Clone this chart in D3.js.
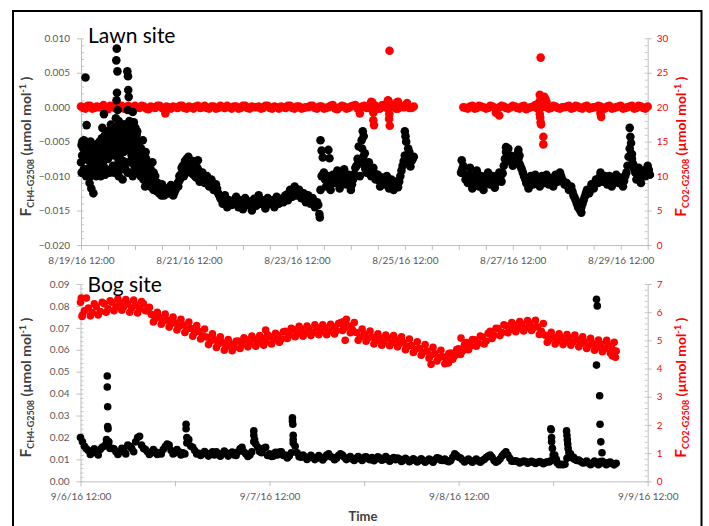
<!DOCTYPE html>
<html><head><meta charset="utf-8">
<script src="https://cdn.jsdelivr.net/npm/d3@7"></script>
<style>body{margin:0;background:#fff}svg{display:block}text{font-family:Lato,"Open Sans",sans-serif}</style>
</head><body>
<svg id="c" width="709" height="526"></svg>
<script>
// ================= DATA =================
// Lawn site (time = hours after 8/19/16 12:00)
const lawnTitle = "Lawn site";
const lawnXLabels = ["8/19/16 12:00","8/21/16 12:00","8/23/16 12:00","8/25/16 12:00","8/27/16 12:00","8/29/16 12:00"];
const lawnCh4Ticks = [0.010,0.005,0.000,-0.005,-0.010,-0.015,-0.020];
const lawnCo2Ticks = [0,5,10,15,20,25,30];
// CH4 readings on the hour, hours 0-148
const lawnCh4A = [-0.0080,-0.0060,-0.0090,-0.0055,-0.0100,-0.0070,-0.0085,-0.0065,-0.0095,-0.0060,
 -0.0085,-0.0050,-0.0075,-0.0045,-0.0035,-0.0070,-0.0040,-0.0090,-0.0050,-0.0065,
 -0.0030,-0.0080,-0.0045,-0.0100,-0.0055,-0.0035,-0.0075,-0.0065,-0.0095,-0.0075,
 -0.0105,-0.0090,-0.0112,-0.0100,-0.0118,-0.0122,-0.0112,-0.0128,-0.0118,-0.0125,
 -0.0113,-0.0128,-0.0120,-0.0110,-0.0105,-0.0095,-0.0085,-0.0075,-0.0090,-0.0082,
 -0.0098,-0.0090,-0.0100,-0.0105,-0.0095,-0.0110,-0.0100,-0.0115,-0.0105,-0.0120,
 -0.0112,-0.0125,-0.0132,-0.0140,-0.0128,-0.0145,-0.0135,-0.0142,
 -0.0140,-0.0130,-0.0145,-0.0135,-0.0148,-0.0132,-0.0142,-0.0137,-0.0150,-0.0133,
 -0.0143,-0.0128,-0.0140,-0.0135,-0.0147,-0.0132,-0.0140,-0.0135,-0.0145,-0.0130,
 -0.0140,-0.0133,-0.0138,-0.0128,-0.0135,-0.0120,-0.0130,-0.0115,-0.0128,-0.0120,
 -0.0132,-0.0125,-0.0138,-0.0128,-0.0140,-0.0132,-0.0145,-0.0138,
 -0.0155,-0.0100,
 -0.0095,-0.0115,-0.0100,-0.0120,-0.0098,-0.0110,-0.0092,-0.0118,-0.0103,-0.0090,-0.0112,-0.0098,-0.0120,-0.0105,-0.0088,
 -0.0075,-0.0100,-0.0060,-0.0085,-0.0095,
 -0.0080,-0.0100,-0.0088,-0.0105,
 -0.0098,-0.0115,-0.0102,-0.0112,-0.0100,-0.0118,-0.0105,-0.0120,-0.0108,-0.0116,
 -0.0100,-0.0085,-0.0070,-0.0080,-0.0065,-0.0078,-0.0072];
// CH4 readings on the half hour, hours 0.5-147.5
const lawnCh4AHalf = [-0.0070,-0.0075,-0.0072,-0.0078,-0.0085,-0.0077,-0.0075,-0.0080,
 -0.0072,-0.0068,-0.0070,-0.0062,-0.0060,
 -0.0055,-0.0052,-0.0058,-0.0060,-0.0068,-0.0055,-0.0048,-0.0062,-0.0058,-0.0070,-0.0045,-0.0055,-0.0062,
 -0.0080,-0.0078,-0.0088,-0.0095,-0.0098,-0.0103,-0.0108,-0.0112,
 -0.0120,-0.0117,-0.0120,-0.0123,-0.0121,-0.0119,-0.0122,-0.0124,-0.0115,
 -0.0108,-0.0100,-0.0090,-0.0082,-0.0080,-0.0086,-0.0090,-0.0094,-0.0096,
 -0.0100,-0.0102,-0.0104,-0.0108,-0.0110,-0.0112,-0.0114,-0.0116,-0.0118,
 -0.0128,-0.0134,-0.0136,-0.0137,-0.0140,-0.0138,-0.0139,
 -0.0136,-0.0138,-0.0140,-0.0141,-0.0140,-0.0137,-0.0139,-0.0142,-0.0141,-0.0138,
 -0.0136,-0.0135,-0.0137,-0.0140,-0.0139,-0.0136,-0.0137,-0.0140,-0.0138,-0.0135,
 -0.0136,-0.0134,-0.0130,-0.0127,-0.0125,-0.0122,-0.0123,-0.0125,-0.0126,-0.0129,
 -0.0131,-0.0133,-0.0134,-0.0135,-0.0136,-0.0137,-0.0140,-0.0142,
 -0.0120,-0.0098,
 -0.0105,-0.0106,-0.0109,-0.0108,-0.0104,-0.0103,-0.0105,-0.0110,-0.0097,-0.0101,-0.0105,-0.0108,-0.0112,-0.0097,-0.0085,
 -0.0080,-0.0078,-0.0072,-0.0090,-0.0088,
 -0.0090,-0.0094,-0.0096,-0.0100,
 -0.0106,-0.0108,-0.0107,-0.0106,-0.0109,-0.0110,-0.0112,-0.0113,-0.0111,-0.0108,
 -0.0092,-0.0078,-0.0075,-0.0072,-0.0071,-0.0075];
// CH4 readings at quarter past / quarter to, hours 0.25-35.75
const lawnCh4EarlyQ = [-0.0055,-0.0095,-0.0090,-0.0050,-0.0100,-0.0060,-0.0075,-0.0100,-0.0050,-0.0088,
 -0.0095,-0.0058,-0.0068,-0.0100,-0.0090,-0.0052,-0.0068,-0.0100,-0.0045,-0.0080,
 -0.0060,-0.0098,-0.0072,-0.0035,-0.0092,-0.0055,-0.0070,-0.0030,-0.0050,-0.0095,
 -0.0085,-0.0035,-0.0060,-0.0100,-0.0045,-0.0078,-0.0090,-0.0025,-0.0080,-0.0050,
 -0.0045,-0.0095,-0.0060,-0.0035,-0.0080,-0.0055,-0.0045,-0.0085,-0.0070,-0.0040,
 -0.0085,-0.0050,-0.0090,-0.0060,-0.0080,-0.0105,-0.0085,-0.0065,-0.0100,-0.0085,
 -0.0095,-0.0115,-0.0105,-0.0080,-0.0120,-0.0105,-0.0112,-0.0122,-0.0110,-0.0125,
 -0.0115,-0.0128];
// CH4 readings at quarter past / quarter to, hours 43.25-52.75
const lawnCh4BumpQ = [-0.0115,-0.0100,-0.0098,-0.0088,-0.0085,-0.0100,-0.0078,-0.0092,-0.0088,-0.0072,
 -0.0080,-0.0095,-0.0092,-0.0078,-0.0085,-0.0100,-0.0102,-0.0088,-0.0092,-0.0108];
// CH4 readings on the hour, hours 169-253
const lawnCh4B = [-0.0095,-0.0085,-0.0105,
 -0.0110,-0.0098,-0.0118,-0.0103,-0.0092,-0.0115,-0.0100,-0.0120,-0.0105,-0.0095,-0.0112,-0.0100,-0.0117,-0.0103,-0.0095,-0.0108,
 -0.0085,-0.0065,-0.0078,-0.0070,-0.0085,-0.0075,-0.0068,-0.0082,-0.0090,-0.0100,
 -0.0110,-0.0118,-0.0100,-0.0112,-0.0098,-0.0108,-0.0115,-0.0100,-0.0110,-0.0098,-0.0112,-0.0103,-0.0115,-0.0098,-0.0108,-0.0095,-0.0105,-0.0112,
 -0.0110,-0.0120,-0.0115,-0.0128,-0.0135,-0.0145,-0.0150,-0.0140,-0.0130,
 -0.0120,-0.0125,-0.0112,-0.0118,-0.0105,-0.0110,-0.0095,-0.0108,-0.0100,
 -0.0112,-0.0100,-0.0115,-0.0105,-0.0098,-0.0110,-0.0102,-0.0115,-0.0100,
 -0.0085,-0.0060,-0.0075,-0.0090,
 -0.0105,-0.0088,-0.0110,-0.0092,-0.0100,-0.0085,-0.0098];
// CH4 readings on the half hour, hours 169.5-252.5
const lawnCh4BHalf = [-0.0090,-0.0097,-0.0104,
 -0.0104,-0.0108,-0.0110,-0.0098,-0.0103,-0.0107,-0.0110,-0.0112,-0.0100,-0.0104,-0.0106,-0.0108,-0.0110,-0.0099,-0.0101,-0.0096,
 -0.0075,-0.0071,-0.0074,-0.0078,-0.0080,-0.0072,-0.0075,-0.0086,-0.0095,-0.0104,
 -0.0112,-0.0108,-0.0106,-0.0105,-0.0103,-0.0110,-0.0107,-0.0105,-0.0104,-0.0105,-0.0107,-0.0109,-0.0106,-0.0103,-0.0101,-0.0100,-0.0108,-0.0111,
 -0.0115,-0.0117,-0.0122,-0.0131,-0.0140,-0.0147,-0.0145,-0.0135,-0.0125,
 -0.0122,-0.0119,-0.0115,-0.0111,-0.0108,-0.0102,-0.0101,-0.0104,-0.0106,
 -0.0106,-0.0108,-0.0110,-0.0101,-0.0104,-0.0106,-0.0108,-0.0107,-0.0095,
 -0.0072,-0.0068,-0.0082,-0.0095,
 -0.0096,-0.0099,-0.0101,-0.0096,-0.0092,-0.0091];
// CH4 scattered readings [hour, value]
const lawnCh4Extra = [[0.3,-0.0095],[0.6,-0.0050],[0.8,-0.0095],[1.3,-0.0048],[2.0,0.0043],[2.2,-0.0065],[2.5,-0.0026],
 [3.3,-0.0090],[3.8,-0.0110],[4.3,-0.0060],[4.6,-0.0118],[5.2,-0.0092],[5.5,-0.0125],[6.3,-0.0055],[7.3,-0.0095],
 [8.3,-0.0050],[9.2,-0.0095],[9.5,-0.0030],[10.2,-0.0010],[10.7,-0.0040],[11.2,-0.0090],[11.5,-0.0095],[12.3,-0.0040],
 [12.8,-0.0095],[13.3,-0.0025],[14.2,-0.0085],[14.5,-0.0060],[15.2,-0.0029],[15.3,-0.0045],[15.5,-0.0016],[15.7,0.0068],
 [15.8,0.0010],[15.9,0.0085],[16.0,0.0021],[16.2,0.0052],[16.3,-0.0004],[16.6,-0.0075],[16.8,-0.0020],[17.3,-0.0065],
 [17.5,-0.0030],[18.2,-0.0035],[18.5,-0.0105],[18.8,-0.0078],[19.3,-0.0025],[19.5,-0.0040],[19.8,-0.0090],[20.3,-0.0060],
 [20.6,0.0052],[20.8,-0.0004],[20.9,0.0045],[21.0,0.0025],[21.2,0.0015],[21.5,-0.0020],[21.8,-0.0040],[22.2,-0.0095],
 [22.5,-0.0065],[22.8,-0.0030],[23.0,-0.0007],[23.5,-0.0022],[23.8,-0.0065],[24.2,-0.0030],[24.5,-0.0090],[24.8,-0.0078],
 [25.2,-0.0095],[25.5,-0.0060],[26.2,-0.0050],[26.5,-0.0100],[27.2,-0.0100],[27.5,-0.0048],[28.2,-0.0070],[28.5,-0.0115],
 [29.2,-0.0110],[30.3,-0.0085],[31.3,-0.0115],[32.3,-0.0095],[52,-0.0077],
 [106.2,-0.0160],[106.5,-0.0048],[107,-0.0063],[107.5,-0.0073],[110,-0.0062],[110.5,-0.0074],
 [123.5,-0.0057],[124.8,-0.0048],[125.3,-0.0035],[125.7,-0.0042],[126.2,-0.0067],
 [144,-0.0035],[144.3,-0.0042],[144.6,-0.0050],[145.5,-0.0060],[146.5,-0.0086],
 [169.3,-0.0077],[173,-0.0088],[189,-0.0058],[190,-0.0060],[194.5,-0.0062],[195,-0.0070],[222.5,-0.0153],
 [244,-0.0030],[244.3,-0.0043],[244.6,-0.0052],[245,-0.0068]];
// CO2 readings at even hours 0-148
const lawnCo2A = [20.1,19.8,20.2,19.9,20.0,20.3,19.7,20.1,19.9,20.2,
 19.8,20.0,20.2,19.9,20.1,19.7,20.0,20.2,19.9,20.1,
 19.8,20.0,20.2,19.9,20.1,19.8,20.2,20.0,19.9,20.1,
 19.8,20.2,19.9,20.0,20.1,19.8,20.2,19.9,20.1,20.0,
 19.8,20.2,19.9,20.1,19.8,20.0,20.2,19.9,20.1,19.8,
 20.0,20.2,19.9,20.1,19.8,20.0,20.3,19.7,20.2,19.8,
 20.1,20.3,19.8,20.2,19.9,20.1,19.8,20.3,19.9,20.1,
 19.8,20.2,20.0,19.9,20.1];
// CO2 readings at odd hours 1-147
const lawnCo2AOdd = [19.9,20.2,19.8,20.1,20.0,19.7,20.2,19.9,20.1,19.8,
 20.2,19.9,20.0,20.2,19.8,20.1,19.9,20.2,19.8,20.0,
 20.1,19.9,20.2,19.8,20.0,20.1,19.9,20.2,19.8,20.1,
 19.9,20.0,20.2,19.8,20.1,19.9,20.2,19.8,20.0,20.1,
 19.9,20.2,19.8,20.0,20.1,19.9,20.2,19.8,20.1,19.9,
 20.0,20.2,19.8,20.1,19.9,20.2,19.8,20.0,20.1,19.9,
 20.2,19.8,20.1,19.9,20.0,20.2,19.8,20.1,19.9,20.2,
 19.8,20.0,20.1,19.9];
// CO2 readings at even hours 170-252
const lawnCo2B = [20.0,19.8,20.2,19.9,20.1,19.8,20.2,19.9,20.0,20.1,
 19.8,20.2,19.9,20.1,19.7,20.0,20.3,19.9,20.1,19.8,
 20.2,19.9,20.0,20.1,19.8,20.2,19.9,20.1,19.8,20.0,
 20.2,19.9,20.1,19.8,20.0,20.2,19.9,20.1,19.8,20.2,
 19.9,20.1];
// CO2 readings at odd hours 171-251
const lawnCo2BOdd = [19.9,20.1,19.8,20.2,20.0,19.9,20.1,19.8,20.2,19.9,
 20.0,20.1,19.8,20.2,19.9,20.1,19.8,20.0,20.2,19.9,
 20.1,19.8,20.0,20.2,19.9,20.1,19.8,20.2,19.9,20.0,
 20.1,19.8,20.2,19.9,20.1,19.8,20.0,20.2,19.9,20.1,
 19.8];
const lawnCo2Extra = [[37.5,19.1],[124,19.1],[129,20.8],[129.5,20.7],[130,19.2],[130,18.1],[130.3,17.4],
 [136.5,21.0],[136.8,20.9],[137.1,19.0],[137,18.3],[137.3,17.3],[137.2,28.2],[140.5,20.7],[141,20.8],[145,20.6],
 [184.5,19.2],[186,18.8],[203.8,20.8],[204,21.8],[204.5,21.4],[205,21.0],[204,19.0],[204.2,18.5],[204.4,17.8],
 [204.6,17.5],[205.6,15.7],[205.6,14.6],[204.4,27.2],[205.3,20.6],[206,21.5],[206.5,21.2],[207,20.8],[231,19.1],[231.3,18.6]];

// Bog site (time = hours after 9/6/16 12:00)
const bogTitle = "Bog site";
const bogXLabels = ["9/6/16 12:00","9/7/16 12:00","9/8/16 12:00","9/9/16 12:00"];
const bogCh4Ticks = [0,0.01,0.02,0.03,0.04,0.05,0.06,0.07,0.08,0.09];
const bogCo2Ticks = [0,1,2,3,4,5,6,7];
// CH4 every 30 min, hours 0-68
const bogCh4 = [.020,.016,.014,.013,.0135,.0145,.016,.0175,.015,.0135,
 .0135,.014,.0165,.015,.018,.0205,.015,.0135,.013,.0135,
 .013,.0145,.017,.014,.013,.0135,.013,.0175,.016,.014,
 .0128,.0125,.0128,.0125,.012,.0125,.0125,.013,.0125,.012,
 .0135,.0155,.0125,.012,.018,.0155,.013,.0155,.0125,.0115,
 .012,.0135,.012,.0115,.0175,.013,.011,.0112,.0108,.011,
 .0105,.011,.0108,.0125,.011,.0105,.0125,.011,.0105,.0102,
 .0105,.0103,.011,.0103,.0108,.0102,.0106,.010,.0105,.010,
 .0098,.0102,.0097,.0098,.0095,.0097,.0095,.0096,.0094,.0096,
 .0098,.0105,.0095,.0093,.0095,.0125,.011,.0097,.0095,.0094,
 .0095,.0093,.0095,.0108,.012,.0095,.0093,.0115,.0135,.0105,
 .0092,.009,.0088,.009,.0087,.0088,.0086,.0087,.0085,.0088,
 .012,.0085,.0077,.0078,.013,.0105,.0095,.009,.0085,.0083,
 .0082,.0085,.009,.0082,.0085,.008,.0082];
// CH4 every 30 min, offset 15 min (hours 0.25-67.75)
const bogCh4Q = [.0180,.0148,.0122,.0148,.0120,.0155,.0170,.0150,.0148,.0122,
 .0150,.0125,.0160,.0135,.0200,.0165,.0145,.0122,.0145,.0122,
 .0125,.0158,.0165,.0125,.0145,.0120,.0125,.0190,.0155,.0125,
 .0118,.0136,.0115,.0135,.0134,.0114,.0138,.0115,.0133,.0118,
 .0148,.0135,.0113,.0134,.0170,.0135,.0150,.0118,.0113,.0132,
 .0133,.0118,.0106,.0130,.0160,.0112,.0120,.0100,.0119,.0099,
 .0117,.0097,.0120,.0112,.0098,.0117,.0120,.0099,.0113,.0095,
 .0113,.0095,.0112,.0098,.0094,.0112,.0096,.0113,.0092,.0108,
 .0106,.0090,.0105,.0089,.0103,.0088,.0103,.0087,.0102,.0087,
 .0107,.0096,.0102,.0089,.0110,.0118,.0106,.0088,.0102,.0087,
 .0102,.0087,.0100,.0115,.0110,.0087,.0102,.0125,.0120,.0092,
 .0094,.0084,.0092,.0082,.0091,.0081,.0090,.0080,.0089,.0095,
 .0098,.0076,.0076,.0105,.0115,.0100,.0097,.0084,.0092,.0076,
 .0092,.0076,.0091,.0076,.0088,.0075];
const bogCh4Extra = [[3.4,0.048],[3.4,0.043],[3.45,0.034],[3.45,0.025],[3.5,0.024],[3.3,0.019],[3.6,0.018],
 [13.4,0.026],[13.4,0.024],[13.5,0.020],[13.6,0.018],[22.0,0.023],[22.0,0.021],[22.1,0.019],
 [26.9,0.029],[26.9,0.0275],[26.95,0.026],[27.0,0.021],[27.0,0.019],
 [59.7,0.024],[59.75,0.0235],[59.8,0.020],[59.8,0.018],[59.9,0.015],[60.2,0.012],[60.4,0.010],
 [61.7,0.023],[61.75,0.021],[61.8,0.019],[61.85,0.017],[61.9,0.015],[62.2,0.0125],[62.6,0.011],[63.2,0.0095],
 [65.5,0.083],[65.6,0.080],[65.5,0.053],[65.9,0.039],[65.95,0.026],[66.05,0.018],[66.2,0.013]];
// CO2 every 30 min, hours 0-68
const bogCo2 = [6.35,6.05,6.15,5.98,6.2,6.02,6.3,6.12,6.35,6.18,
 6.33,6.2,6.3,6.15,6.25,6.12,6.3,6.05,5.92,5.78,
 5.82,5.68,5.72,5.6,5.62,5.5,5.55,5.4,5.42,5.28,
 5.32,5.15,5.12,4.98,5.02,4.88,4.92,4.78,4.88,4.75,
 4.98,4.85,5.02,4.9,5.05,4.92,5.08,4.95,5.14,5.0,
 5.18,5.05,5.32,5.18,5.38,5.24,5.4,5.26,5.42,5.28,
 5.45,5.3,5.45,5.32,5.48,5.35,5.62,5.45,5.52,5.38,
 5.28,5.12,5.22,5.08,5.12,4.98,5.08,4.94,5.08,4.92,
 5.02,4.88,4.92,4.78,4.82,4.68,4.72,4.58,4.62,4.48,
 4.52,4.38,4.42,4.28,4.55,4.45,4.7,4.62,4.92,4.8,
 5.02,4.9,5.12,4.98,5.32,5.18,5.42,5.28,5.52,5.38,
 5.55,5.42,5.58,5.44,5.6,5.45,5.48,5.32,5.18,5.04,
 5.12,4.98,5.1,4.95,5.08,4.93,5.02,4.88,4.95,4.82,
 4.9,4.75,4.86,4.7,4.82,4.68,4.62];
// CO2 every 30 min, offset 15 min (hours 0.25-67.75)
const bogCo2Q = [5.9,6.5,5.87,6.3,5.9,6.35,6.0,6.4,6.05,6.47,
 6.07,6.45,6.0,6.43,5.97,6.38,6.05,6.17,5.65,6.0,
 5.57,5.93,5.47,5.83,5.37,5.75,5.28,5.65,5.15,5.53,
 5.05,5.4,4.85,5.23,4.75,5.13,4.65,5.03,4.63,4.97,
 4.71,5.09,4.77,5.15,4.79,5.17,4.83,5.2,4.87,5.25,
 4.93,5.3,5.07,5.43,5.13,5.5,5.15,5.51,5.17,5.55,
 5.2,5.55,5.2,5.57,5.23,5.6,5.35,5.75,5.27,5.63,
 5.0,5.4,4.97,5.33,4.87,5.23,4.83,5.19,4.81,5.17,
 4.77,5.13,4.67,5.05,4.57,4.95,4.47,4.85,4.37,4.75,
 4.27,4.65,4.17,4.53,4.33,4.67,4.5,4.85,4.67,5.03,
 4.79,5.15,4.87,5.25,5.07,5.43,5.17,5.55,5.27,5.63,
 5.31,5.67,5.33,5.7,5.35,5.71,5.21,5.6,4.93,5.29,
 4.87,5.23,4.85,5.21,4.83,5.19,4.77,5.13,4.71,5.07,
 4.65,5.01,4.6,4.97,4.55,4.93];
const bogCo2Extra = [[0.1,6.5],[0.2,5.85],[23.5,5.37],[33.6,5.0],[33.3,5.66],[44.5,4.15],[46.7,4.2],
 [48.3,5.08],[66.8,5.0],[67.5,4.45],[67.9,4.4]];

// ================= DRAW =================
const svg = d3.select("#c");
const H = 3600e3;
const fmt = d3.timeFormat("%-m/%-d/%y %H:%M");
const run = (origin, start, step, vals) => vals.map((v,i)=>({t:new Date(+origin + (start+i*step)*H), v}));
const pts = (origin, pairs) => pairs.map(([h,v])=>({t:new Date(+origin + h*H), v}));

function panel(o){
  const g = svg.append("g");
  const x = d3.scaleTime().domain([o.t0,o.t1]).range([o.x0,o.x1]);
  const yL = d3.scaleLinear().domain(o.lDom).range([o.y1,o.y0]);
  const yR = d3.scaleLinear().domain(o.rDom).range([o.y1,o.y0]);

  // minor ticks (inside)
  g.append("g").attr("transform",`translate(${o.x0},0)`)
    .call(d3.axisLeft(yL).tickValues(o.lMinor).tickSize(-3).tickFormat(""))
    .call(s=>{s.select(".domain").remove();s.selectAll("line").attr("stroke","#c8c8c8");});
  g.append("g").attr("transform",`translate(${o.x1},0)`)
    .call(d3.axisRight(yR).tickValues(o.rMinor).tickSize(-3).tickFormat(""))
    .call(s=>{s.select(".domain").remove();s.selectAll("line").attr("stroke","#c8c8c8");});

  const ax = g.append("g").attr("transform",`translate(${o.x0},0)`)
    .call(d3.axisLeft(yL).tickValues(o.lTicks).tickSize(4).tickPadding(7).tickSizeOuter(0).tickFormat(d3.format(o.lFmt)));
  ax.selectAll("text").attr("fill","#595959").attr("font-size",10);
  const ar = g.append("g").attr("transform",`translate(${o.x1},0)`)
    .call(d3.axisRight(yR).tickValues(o.rTicks).tickSize(4).tickPadding(5).tickSizeOuter(0).tickFormat(d3.format("d")));
  ar.selectAll("text").attr("fill","#ff0000").attr("font-size",10);
  const xt = d3.timeHour.every(12).range(o.t0, new Date(+o.t1+1));
  const axx = g.append("g").attr("transform",`translate(0,${o.y1})`)
    .call(d3.axisBottom(x).tickValues(xt).tickSize(5).tickPadding(7).tickSizeOuter(0)
      .tickFormat(d=>o.xLabels.includes(fmt(d))?fmt(d):""));
  axx.selectAll("text").attr("fill","#595959").attr("font-size",10);
  [ax,ar,axx].forEach(a=>{a.attr("font-family",null);a.selectAll(".domain,line").attr("stroke","#bfbfbf");});

  // data: CO2 (red) below CH4 (black)
  g.append("g").selectAll("circle").data(o.co2).join("circle")
    .attr("cx",d=>x(d.t)).attr("cy",d=>yR(d.v)).attr("r",o.r).attr("fill","#ff0000");
  g.append("g").selectAll("circle").data(o.ch4).join("circle")
    .attr("cx",d=>x(d.t)).attr("cy",d=>yL(d.v)).attr("r",o.r).attr("fill","#000");

  g.append("text").attr("x",o.x0+7).attr("y",o.titleY).attr("font-size",21).attr("fill","#000").text(o.title);

  const lab = (cx,cy,col,sub)=>{
    const t = g.append("text").attr("transform",`translate(${cx},${cy}) rotate(-90)`)
      .attr("text-anchor","middle").attr("font-weight","bold").attr("font-size",14).attr("fill",col);
    t.append("tspan").attr("font-size",15.5).text("F");
    t.append("tspan").attr("font-size",9).attr("dy",3).text(sub);
    t.append("tspan").attr("dy",-3).text(" (µmol mol");
    t.append("tspan").attr("font-size",9).attr("dy",-5).text("-1");
    t.append("tspan").attr("dy",5).text(" )");
  };
  lab(o.x0-50, (o.y0+o.y1)/2+5, "#404040", "CH4-G2508");
  lab(o.x1+38, (o.y0+o.y1)/2+5, "#ff0000", "CO2-G2508");
}

const lawnT0 = new Date(2016,7,19,12), lawnT1 = new Date(2016,7,30,0);
const bogT0 = new Date(2016,8,6,12), bogT1 = new Date(2016,8,9,12);

panel({t0:lawnT0,t1:lawnT1,x0:81,x1:647.7,y0:38.3,y1:245,
  lDom:[-0.020,0.010],rDom:[0,30],lTicks:lawnCh4Ticks,rTicks:lawnCo2Ticks,lFmt:".3f",
  lMinor:d3.range(-20,11).map(d=>d/1000),rMinor:d3.range(0,31),
  xLabels:lawnXLabels,title:lawnTitle,titleY:43,r:4.3,
  ch4:[...run(lawnT0,0,1,lawnCh4A),...run(lawnT0,0.5,1,lawnCh4AHalf),
       ...run(lawnT0,0.25,0.5,lawnCh4EarlyQ),...run(lawnT0,43.25,0.5,lawnCh4BumpQ),
       ...run(lawnT0,169,1,lawnCh4B),...run(lawnT0,169.5,1,lawnCh4BHalf),...pts(lawnT0,lawnCh4Extra)],
  co2:[...run(lawnT0,0,2,lawnCo2A),...run(lawnT0,1,2,lawnCo2AOdd),
       ...run(lawnT0,170,2,lawnCo2B),...run(lawnT0,171,2,lawnCo2BOdd),...pts(lawnT0,lawnCo2Extra)]});

panel({t0:bogT0,t1:bogT1,x0:80.5,x1:647.7,y0:284,y1:481.3,
  lDom:[0,0.09],rDom:[0,7],lTicks:bogCh4Ticks,rTicks:bogCo2Ticks,lFmt:".2f",
  lMinor:d3.range(0,46).map(d=>d*0.002),rMinor:d3.range(0,36).map(d=>d*0.2),
  xLabels:bogXLabels,title:bogTitle,titleY:292,r:3.8,
  ch4:[...run(bogT0,0,0.5,bogCh4),...run(bogT0,0.25,0.5,bogCh4Q),...pts(bogT0,bogCh4Extra)],
  co2:[...run(bogT0,0,0.5,bogCo2),...run(bogT0,0.25,0.5,bogCo2Q),...pts(bogT0,bogCo2Extra)]});

svg.append("text").attr("x",363).attr("y",521).attr("text-anchor","middle")
  .attr("font-weight","bold").attr("font-size",13).attr("fill","#404040").text("Time");

svg.append("path").attr("d","M13,526V11H701.5V526").attr("fill","none").attr("stroke","#000").attr("stroke-width",2);
</script>
</body></html>
